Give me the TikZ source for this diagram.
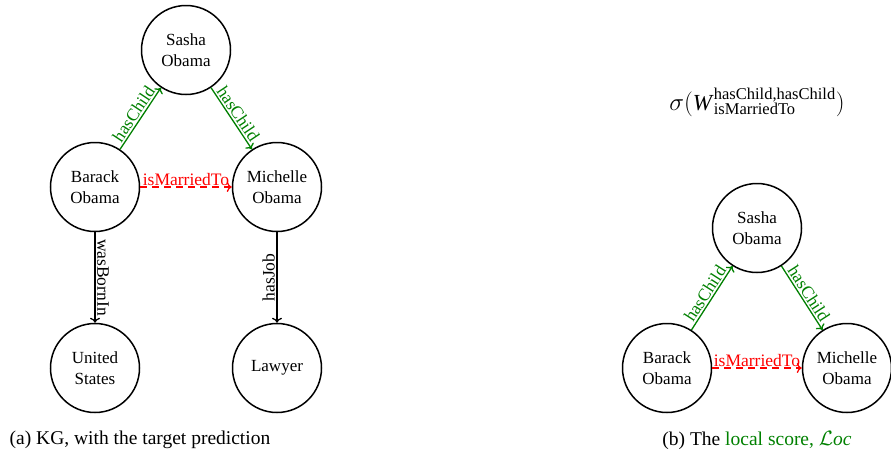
\documentclass[tikz,border=0pt]{standalone}
\usepackage{fontspec}
\setmainfont{Liberation Serif}
\usetikzlibrary{arrows.meta}
\definecolor{kggreen}{RGB}{0,128,0}
\begin{document}
\begin{tikzpicture}[x=1pt,y=-1pt,
  ent/.style={draw,circle,line width=1.5pt,minimum size=89pt,inner sep=0pt,align=center,font=\fontsize{17}{21}\selectfont},
  rel/.style={line width=1.3pt,-{To[length=5pt,width=10pt]}},
  chi/.style={rel,draw=kggreen},
  mar/.style={rel,draw=red,dashed,dash pattern=on 7pt off 5pt},
  lab/.style={font=\fontsize{17.5}{20}\selectfont,inner sep=1.5pt},
  captext/.style={font=\fontsize{19.5}{23}\selectfont,inner sep=0pt}]
\useasboundingbox (0,0) rectangle (891,461);
% panel (a)
\node[ent] (s1) at (186,50) {Sasha\\Obama};
\node[ent] (b1) at (95,187) {Barack\\Obama};
\node[ent] (m1) at (277,187) {Michelle\\Obama};
\node[ent] (u1) at (95,368) {United\\States};
\node[ent] (l1) at (277,368) {Lawyer};
\draw[chi] (b1) -- node[lab,sloped,above,text=kggreen] {hasChild} (s1);
\draw[chi] (s1) -- node[lab,sloped,above,text=kggreen] {hasChild} (m1);
\draw[mar] (b1) -- node[lab,above,text=red,yshift=-1pt] {isMarriedTo} (m1);
\draw[rel] (b1) -- node[lab,rotate=-90,anchor=south] {wasBornIn} (u1);
\draw[rel] (m1) -- node[lab,rotate=90,anchor=south] {hasJob} (l1);
\node[captext] (ca) at (140,440) {(a) KG, with the target prediction};
% panel (b)
\node (f) at (757,102) {\fontsize{23}{26}\selectfont $\sigma($\textit{W}$^{\mbox{\fontsize{16.5}{16.5}\selectfont hasChild,hasChild}}_{\mbox{\fontsize{16.5}{16.5}\selectfont isMarriedTo}}$$)$};
\node[ent] (s2) at (757,228) {Sasha\\Obama};
\node[ent] (b2) at (667,368) {Barack\\Obama};
\node[ent] (m2) at (847,368) {Michelle\\Obama};
\draw[chi] (b2) -- node[lab,sloped,above,text=kggreen] {hasChild} (s2);
\draw[chi] (s2) -- node[lab,sloped,above,text=kggreen] {hasChild} (m2);
\draw[mar] (b2) -- node[lab,above,text=red,yshift=-1pt] {isMarriedTo} (m2);
\node[captext] (cb) at (757,440) {(b) The \textcolor{kggreen}{local score, $\mathcal{L}$\textit{oc}}};
\end{tikzpicture}
\end{document}
